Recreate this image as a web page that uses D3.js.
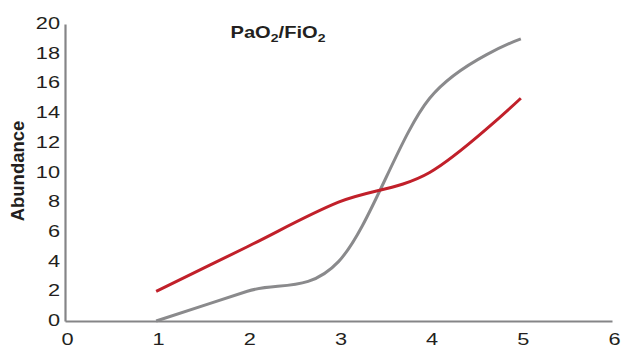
<!DOCTYPE html>
<html lang="en">
<head>
  <meta charset="UTF-8">
  <title>PaO2/FiO2 Abundance</title>
  <script src="https://d3js.org/d3.v7.min.js"></script>
  <style>
    body { margin: 0; background: #fff; font-family: "Liberation Sans", Arial, sans-serif; }
  </style>
</head>
<body>
<div id="chart"></div>
<script>
const xValues = [1, 2, 3, 4, 5];
const grayValues = [0, 2, 4, 15, 19];
const redValues = [2, 5, 8, 10, 15];
const xTicks = [0, 1, 2, 3, 4, 5, 6];
const yTicks = [0, 2, 4, 6, 8, 10, 12, 14, 16, 18, 20];

const width = 623;
const height = 347;
const textColor = "#231f20";
const axisColor = "#858587";
const stretch = 1.28; // the original text is wider than it is tall

const svg = d3.select("#chart")
  .append("svg")
  .attr("width", width)
  .attr("height", height);

const x = d3.scaleLinear().domain([0, 6]).range([65, 612]);
const y = d3.scaleLinear().domain([0, 20]).range([321, 24]);

// x axis
const xAxis = svg.append("g")
  .attr("transform", `translate(0,${y(0)})`)
  .call(d3.axisBottom(x).tickValues(xTicks).tickFormat(d3.format("d")).tickSize(0));
xAxis.select(".domain").attr("stroke", axisColor).attr("stroke-width", 2.2);
xAxis.selectAll(".tick text")
  .attr("font-size", 17)
  .attr("fill", textColor)
  .attr("y", 0)
  .attr("dy", 0)
  .attr("transform", `translate(2,24) scale(${stretch},1)`);

// y axis
const yAxis = svg.append("g")
  .attr("transform", `translate(${x(0)},0)`)
  .call(d3.axisLeft(y).tickValues(yTicks).tickFormat(d3.format("d")).tickSize(0));
yAxis.select(".domain").attr("stroke", axisColor).attr("stroke-width", 2.2);
yAxis.selectAll(".tick text")
  .attr("font-size", 17)
  .attr("fill", textColor)
  .attr("x", 0)
  .attr("dy", 0)
  .attr("transform", `translate(-5,4.5) scale(${stretch},1)`);

const line = d3.line()
  .x((d, i) => x(xValues[i]))
  .y(d => y(d))
  .curve(d3.curveCatmullRom.alpha(0));

svg.append("path")
  .datum(grayValues)
  .attr("fill", "none")
  .attr("stroke", "#8a8a8c")
  .attr("stroke-width", 3)
  .attr("d", line);

svg.append("path")
  .datum(redValues)
  .attr("fill", "none")
  .attr("stroke", "#c1202a")
  .attr("stroke-width", 3)
  .attr("d", line);

// title with subscripts
const title = svg.append("text")
  .attr("transform", `translate(278,37.5) scale(1.22,1)`)
  .attr("text-anchor", "middle")
  .attr("font-weight", "bold")
  .attr("font-size", 16.5)
  .attr("fill", textColor);
title.append("tspan").text("PaO");
title.append("tspan").attr("font-size", 11.5).attr("dy", 4).text("2");
title.append("tspan").attr("dy", -4).text("/FiO");
title.append("tspan").attr("font-size", 11.5).attr("dy", 4).text("2");

// y label
svg.append("text")
  .attr("transform", `translate(24,171) rotate(-90)`)
  .attr("text-anchor", "middle")
  .attr("font-weight", "bold")
  .attr("font-size", 18.5)
  .attr("fill", textColor)
  .text("Abundance");
</script>
</body>
</html>
